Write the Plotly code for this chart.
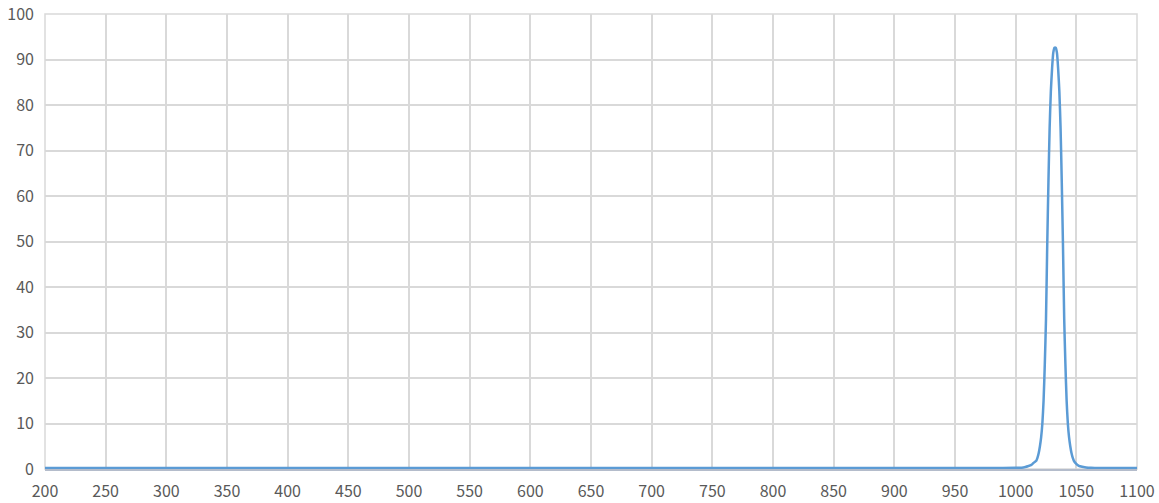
import plotly.graph_objects as go

# wavelength (nm) and transmission (%)
wavelength = [200, 250, 300, 350, 400, 450, 500, 550, 600, 650, 700, 750, 800,
              850, 900, 950, 980, 1000, 1005, 1008, 1010, 1013, 1015, 1017, 1018,
              1019, 1020, 1021, 1022, 1023, 1024, 1025, 1026, 1027, 1028, 1029,
              1030, 1031, 1032, 1033, 1034, 1035, 1036, 1037, 1038, 1039, 1040,
              1041, 1042, 1043, 1044, 1045, 1046, 1047, 1048, 1049, 1051, 1053,
              1058, 1062, 1070, 1080, 1100]
transmission = [0.2, 0.2, 0.2, 0.2, 0.2, 0.2, 0.2, 0.2, 0.2, 0.2, 0.2, 0.2, 0.2,
                0.2, 0.2, 0.2, 0.2, 0.25, 0.3, 0.45, 0.6, 0.9, 1.4, 1.8, 2.5,
                3.5, 5.0, 7.0, 10.0, 15.0, 23.0, 33.0, 49.0, 63.0, 75.0, 83.0,
                88.0, 91.5, 92.6, 92.6, 91.5, 88.0, 83.0, 75.0, 63.0, 49.0, 33.0,
                23.0, 15.0, 10.0, 7.0, 5.0, 3.5, 2.5, 1.8, 1.4, 0.9, 0.6,
                0.35, 0.25, 0.2, 0.2, 0.2]

x_ticks = list(range(200, 1101, 50))
y_ticks = list(range(0, 101, 10))

fig = go.Figure()
fig.add_trace(go.Scatter(
    x=wavelength, y=transmission, mode="lines",
    line=dict(color="#5b9bd5", width=2.5, shape="spline", smoothing=0.6),
    showlegend=False))

fig.update_layout(
    width=1159, height=503,
    margin=dict(l=45, r=22, t=14, b=34),
    paper_bgcolor="white", plot_bgcolor="white",
    font=dict(family="Noto Sans CJK SC, Noto Sans, sans-serif", size=16, color="#595959"),
)
fig.update_xaxes(
    range=[200, 1100], tickvals=x_ticks, showgrid=True, gridcolor="#d9d9d9", gridwidth=1.5,
    showline=True, linecolor="#b4bccb", linewidth=2, mirror=False, zeroline=False,
    ticks="", ticklabelstandoff=7, automargin=False, ticklabeloverflow="allow")
fig.update_yaxes(
    range=[0, 100], tickvals=y_ticks, showgrid=True, gridcolor="#d9d9d9", gridwidth=1.5,
    showline=False, zeroline=False, ticks="", ticklabelstandoff=10, automargin=False,
    ticklabeloverflow="allow")
# frame around the plot area
fig.add_shape(type="rect", xref="paper", yref="paper", x0=0, y0=0, x1=1, y1=1,
              line=dict(color="#d9d9d9", width=1.5), layer="below")

# drop the browser's default body margin so the figure fills the window
fig.write_html("out.html", config={"displayModeBar": False}, post_script=(
    "document.body.style.margin='0';"
    "document.documentElement.style.overflow='hidden';"))
